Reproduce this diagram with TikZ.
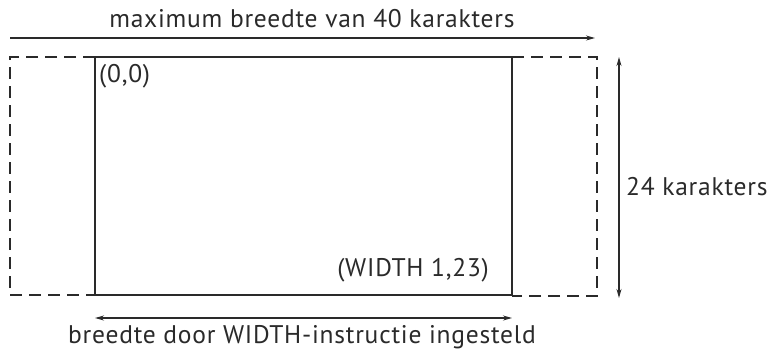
\documentclass[tikz,border=0pt]{standalone}
\usepackage{fontspec}
\setmainfont[LetterSpace=3]{PT Sans}
\usetikzlibrary{arrows.meta}
\definecolor{ink}{HTML}{2A2A2A}
\tikzset{
  lbl/.style={text=ink, font=\fontsize{25.5}{28}\selectfont, inner sep=0pt},
  solidline/.style={draw=ink, line width=1.4pt},
  dashline/.style={draw=ink, line width=1.4pt, dash pattern=on 12pt off 7pt},
  arr/.style={draw=ink, line width=1.2pt, -{Stealth[length=9pt,width=5pt]}},
  darr/.style={draw=ink, line width=1.2pt, {Stealth[length=9pt,width=5pt]}-{Stealth[length=9pt,width=5pt]}}
}
\begin{document}
\begin{tikzpicture}[x=1pt,y=-1pt]
\useasboundingbox (0,0) rectangle (776,349);
% outer dashed rectangle corners
\coordinate (oTL) at (10,57);
\coordinate (oBR) at (597,296);
% inner solid rectangle
\coordinate (iTL) at (95,57);
\coordinate (iBR) at (512,295);
\draw[dashline] (iTL) -- (oTL) |- (iBR);
\draw[dashline] (512,57) -- (597,57) |- (512,296);
\draw[solidline] (iTL) rectangle (iBR);
% top arrow
\coordinate (ta) at (10,38);
\coordinate (tb) at (595,38);
\draw[arr] (ta) -- (tb);
\node[lbl] (title) at (312,19) {maximum breedte van 40 karakters};
% vertical arrow
\coordinate (va) at (619,57);
\coordinate (vb) at (619,298);
\draw[darr] (va) -- (vb);
\node[lbl, anchor=west] (rows) at (626,187) {24 karakters};
% bottom arrow
\coordinate (ba) at (95,318);
\coordinate (bb) at (512,318);
\draw[darr] (ba) -- (bb);
\node[lbl] (bottom) at (302,337) {breedte door WIDTH-instructie ingesteld};
% corner labels
\node[lbl, anchor=north west] (origin) at (99,64) {(0,0)};
\node[lbl, anchor=east] (corner) at (489,270) {(WIDTH 1,23)};
\end{tikzpicture}
\end{document}
